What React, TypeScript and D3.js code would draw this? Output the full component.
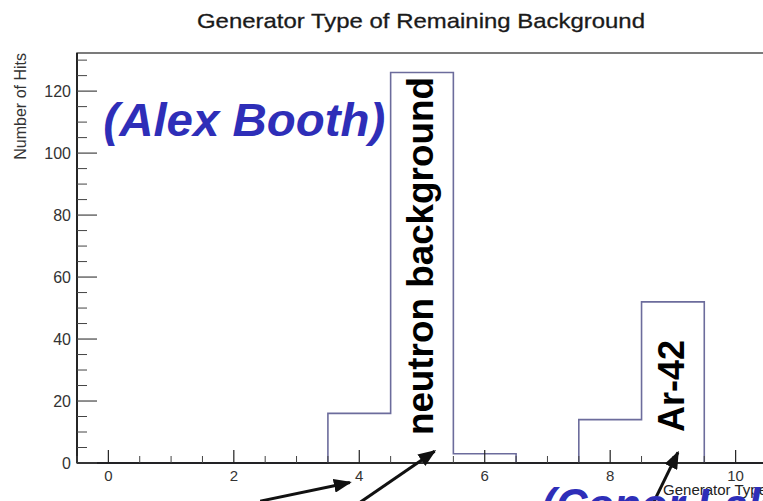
import React from 'react';
import * as d3 from 'd3';

// histogram bins (generator type) and counts
const binCenters = [0, 1, 2, 3, 4, 5, 6, 7, 8, 9, 10];
const hitCounts = [0, 0, 0, 0, 16, 126, 3, 0, 14, 52, 0];
const xTickValues = [0, 2, 4, 6, 8, 10];
const yTickValues = [0, 20, 40, 60, 80, 100, 120];

const chartTitle = 'Generator Type of Remaining Background';
const xTitle = 'Generator Type';
const yTitle = 'Number of Hits';

// annotation placement in data units
const rotatedLabels = [
  { text: 'neutron background', x: 5.17, y: 9, len: 358 },
  { text: 'Ar-42', x: 9.17, y: 10, len: 92 },
];
const blueLabels = [
  { text: '(Alex Booth)', x: -0.08, y: 105.5, len: 282 },
  { text: '(Conor Lake)', x: 6.9, y: -18.6, len: 270 },
];
const arrows = [
  { x1: 2.42, y1: -12.3, x2: 3.85, y2: -6.3 },
  { x1: 4.02, y1: -12.6, x2: 5.2, y2: 3.8 },
  { x1: 8.66, y1: -14, x2: 9.08, y2: 3.4 },
];

const W = 763;
const H = 501;
const font = '"Liberation Sans", Arial, Helvetica, sans-serif';

export default function App() {
  const x = d3.scaleLinear().domain([-0.5, 10.5]).range([77, 767]);
  const y = d3.scaleLinear().domain([0, 132.3]).range([463, 53]);

  // step outline of the histogram
  const pts: [number, number][] = [[x(binCenters[0] - 0.5), y(0)]];
  binCenters.forEach((c, i) => {
    pts.push([x(c - 0.5), y(hitCounts[i])]);
    pts.push([x(c + 0.5), y(hitCounts[i])]);
  });
  pts.push([x(binCenters[binCenters.length - 1] + 0.5), y(0)]);
  const histPath = d3.line()(pts) || '';

  const xMinor = d3.range(-0.5, 10.51, 0.5).filter((v) => !xTickValues.includes(v));
  const yMinor = d3.range(0, 131, 5).filter((v) => !yTickValues.includes(v));

  return (
    <svg width={W} height={H} style={{ position: 'absolute', left: 0, top: 0, background: '#fff' }} fontFamily={font}>
      <defs>
        <marker id="ah" markerUnits="userSpaceOnUse" markerWidth="18" markerHeight="14" refX="16" refY="7" orient="auto">
          <path d="M0,0 L18,7 L0,14 Z" fill="#111" />
        </marker>
      </defs>

      <text x={421} y={28} textAnchor="middle" fontSize={21} fill="#1a1a1a" stroke="#1a1a1a" strokeWidth={0.3}
        textLength={448} lengthAdjust="spacingAndGlyphs">
        {chartTitle}
      </text>

      {/* histogram */}
      <path d={histPath} fill="none" stroke="#6c6c9c" strokeWidth={1.6} />

      {/* frame */}
      <rect x={77} y={53} width={690} height={410} fill="none" stroke="#444" strokeWidth={1.4} />
      <line x1={77} x2={767} y1={463} y2={463} stroke="#111" strokeWidth={1.6} />
      <line x1={77} x2={77} y1={53} y2={463} stroke="#111" strokeWidth={1.6} />

      {/* x ticks */}
      {xTickValues.map((v) => (
        <g key={'xt' + v}>
          <line x1={x(v)} x2={x(v)} y1={463} y2={450} stroke="#222" strokeWidth={1.2} />
          <text x={x(v)} y={481} textAnchor="middle" fontSize={15} fill="#333">{v}</text>
        </g>
      ))}
      {xMinor.map((v) => (
        <line key={'xm' + v} x1={x(v)} x2={x(v)} y1={463} y2={456} stroke="#444" strokeWidth={1} />
      ))}

      {/* y ticks */}
      {yTickValues.map((v) => (
        <g key={'yt' + v}>
          <line x1={77} x2={97} y1={y(v)} y2={y(v)} stroke="#444" strokeWidth={1.2} />
          <text x={71} y={y(v)} dy="0.36em" textAnchor="end" fontSize={16} fill="#333">{v}</text>
        </g>
      ))}
      {yMinor.map((v) => (
        <line key={'ym' + v} x1={77} x2={87} y1={y(v)} y2={y(v)} stroke="#444" strokeWidth={1} />
      ))}

      <text transform={`translate(26,53) rotate(-90)`} textAnchor="end" fontSize={16} fill="#333">{yTitle}</text>

      {/* annotations */}
      {rotatedLabels.map((l) => (
        <text key={l.text} transform={`translate(${x(l.x)},${y(l.y)}) rotate(-90)`} fontSize={37} fontWeight="bold" fill="#000"
          textLength={l.len} lengthAdjust="spacingAndGlyphs">
          {l.text}
        </text>
      ))}
      {arrows.map((a, i) => (
        <line key={'ar' + i} x1={x(a.x1)} y1={y(a.y1)} x2={x(a.x2)} y2={y(a.y2)} stroke="#111" strokeWidth={3} markerEnd="url(#ah)" />
      ))}
      <text x={767} y={495} textAnchor="end" fontSize={15} fill="#222">{xTitle}</text>
      {blueLabels.map((l) => (
        <text key={l.text} x={x(l.x)} y={y(l.y)} fontSize={46} fontWeight="bold" fontStyle="italic" fill="#2e2eb8"
          textLength={l.len} lengthAdjust="spacingAndGlyphs">
          {l.text}
        </text>
      ))}
    </svg>
  );
}
